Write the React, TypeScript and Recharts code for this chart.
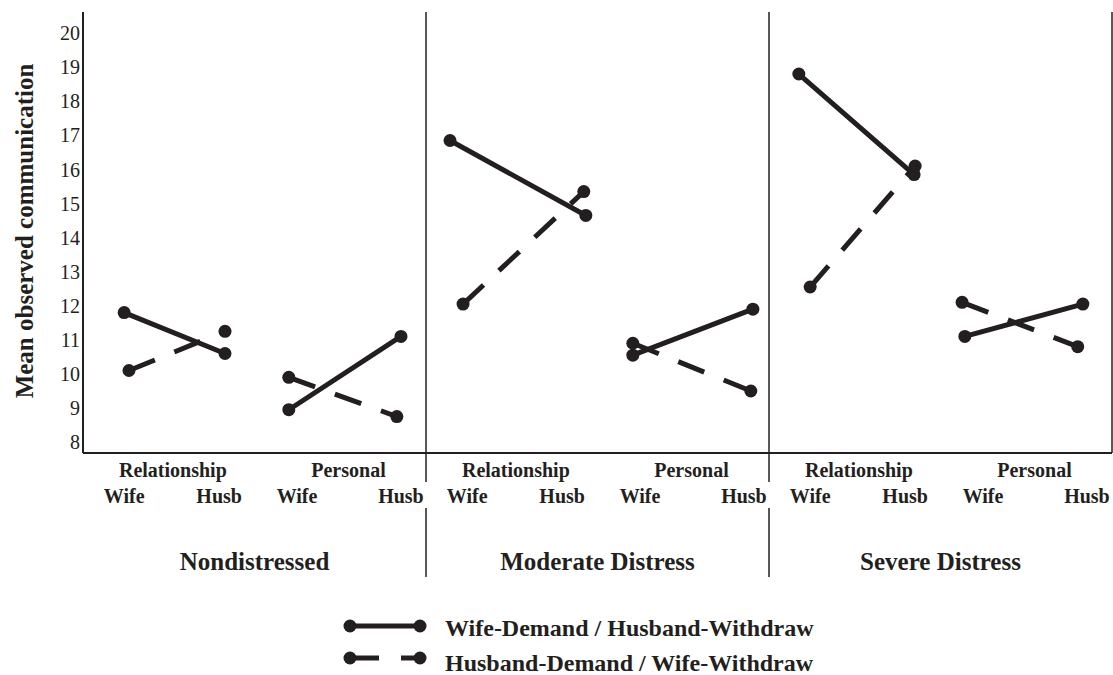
import React from 'react';
import { Legend, Line, LineChart, ReferenceLine, XAxis, YAxis } from 'recharts';

const INK = '#231f20';
const SERIF = '"Liberation Serif", "Times New Roman", serif';

const groups = ['Nondistressed', 'Moderate Distress', 'Severe Distress'];
const topics = ['Relationship', 'Personal'];
const spouses = ['Wife', 'Husb', 'Wife', 'Husb'];

// x scale: each distress group is 10 units wide
const groupWidth = 10;
const spouseTicks = [1.2, 3.97, 6.24, 9.27];
const topicTicks = [2.62, 7.74];
const groupCenter = 5.0;
const dividers = [10, 20];

const yTicks = [8, 9, 10, 11, 12, 13, 14, 15, 16, 17, 18, 19, 20];

// Wife-Demand / Husband-Withdraw (solid)
const wdhwX = [1.2, 4.14, 6.0, 9.27, 10.7, 14.66, 16.03, 19.53, 20.87, 24.23, 25.71, 29.15];
const wdhwY = [11.8, 10.6, 8.95, 11.1, 16.85, 14.65, 10.55, 11.9, 18.8, 15.85, 11.1, 12.05];

// Husband-Demand / Wife-Withdraw (dashed)
const hdwwX = [1.34, 4.14, 6.0, 9.15, 11.08, 14.6, 16.03, 19.47, 21.2, 24.26, 25.63, 29.0];
const hdwwY = [10.1, 11.25, 9.9, 8.75, 12.05, 15.35, 10.9, 9.5, 12.55, 16.1, 12.1, 10.8];

// pairs of points joined by a segment, with a null between pairs to break the line
function segments(xs: number[], ys: number[]) {
  const rows: { x: number; y: number | null }[] = [];
  for (let i = 0; i < xs.length; i += 2) {
    rows.push({ x: xs[i], y: ys[i] });
    rows.push({ x: xs[i + 1], y: ys[i + 1] });
    if (i + 2 < xs.length) rows.push({ x: (xs[i + 1] + xs[i + 2]) / 2, y: null });
  }
  return rows;
}

const wdhwData = segments(wdhwX, wdhwY);
const hdwwData = segments(hdwwX, hdwwY);

const spouseTickValues = groups.flatMap((_, g) => spouseTicks.map((t) => t + g * groupWidth));
const topicTickValues = [
  ...groups.flatMap((_, g) => topicTicks.map((t) => t + g * groupWidth)),
  ...dividers,
];
const groupTickValues = [...groups.map((_, g) => groupCenter + g * groupWidth), ...dividers];

const labelStyle = { fontFamily: SERIF, fontWeight: 700, fill: INK };

function SpouseTick({ x, y, index }: any) {
  return (
    <text x={x} y={y + 20} textAnchor="middle" fontSize={20} {...labelStyle}>
      {spouses[index % spouses.length]}
    </text>
  );
}

function TopicTick({ x, y, payload, index }: any) {
  if (dividers.includes(payload.value)) {
    return <line x1={x} x2={x} y1={y} y2={y + 29} stroke={INK} strokeWidth={1.5} />;
  }
  return (
    <text x={x} y={y + 24} textAnchor="middle" fontSize={20} {...labelStyle}>
      {topics[index % topics.length]}
    </text>
  );
}

function GroupTick({ x, y, payload, index }: any) {
  if (dividers.includes(payload.value)) {
    return <line x1={x} x2={x} y1={y - 5} y2={y + 64} stroke={INK} strokeWidth={1.5} />;
  }
  return (
    <text x={x} y={y + 57} textAnchor="middle" fontSize={25} {...labelStyle}>
      {groups[index]}
    </text>
  );
}

function Marker({ cx, cy }: any) {
  if (cx == null || cy == null) return null;
  return <circle cx={cx} cy={cy} r={6.5} fill={INK} />;
}

function LegendBox({ payload }: any) {
  // solid series first, as in the original key
  const rows = [...(payload ?? [])].sort(
    (a: any, b: any) => Number(!!a.payload?.strokeDasharray) - Number(!!b.payload?.strokeDasharray),
  );
  return (
    <svg width={520} height={75} style={{ display: 'block' }}>
      {rows.map((entry: any, i: number) => {
        const cy = 21 + i * 32;
        const dashed = !!entry.payload?.strokeDasharray;
        return (
          <g key={entry.value}>
            <line
              x1={20}
              x2={90}
              y1={cy}
              y2={cy}
              stroke={INK}
              strokeWidth={5}
              strokeDasharray={dashed ? '29 22' : undefined}
            />
            <circle cx={20} cy={cy} r={6.5} fill={INK} />
            <circle cx={90} cy={cy} r={6.5} fill={INK} />
            <text x={115} y={cy + 10 + i * 3} fontSize={24} {...labelStyle}>
              {entry.value}
            </text>
          </g>
        );
      })}
    </svg>
  );
}

function YTitle() {
  return (
    <text
      x={33}
      y={231}
      transform="rotate(-90 33 231)"
      textAnchor="middle"
      fontSize={25}
      {...labelStyle}
    >
      Mean observed communication
    </text>
  );
}

export default function App() {
  return (
    <div style={{ position: 'absolute', left: 0, top: 0, background: '#fff' }}>
      <LineChart width={1113} height={675} margin={{ top: 12, right: 1, bottom: 92, left: 0 }}>
        {/* bottom axes stack outward from the plot by id: a, b, c */}
        <XAxis
          xAxisId="a-topic"
          type="number"
          dataKey="x"
          domain={[0, 30]}
          allowDataOverflow
          ticks={topicTickValues}
          interval={0}
          tick={<TopicTick />}
          tickSize={0}
          tickMargin={0}
          tickLine={false}
          height={30}
          axisLine={{ stroke: INK, strokeWidth: 2 }}
        />
        <XAxis
          xAxisId="b-spouse"
          type="number"
          dataKey="x"
          domain={[0, 30]}
          allowDataOverflow
          ticks={spouseTickValues}
          interval={0}
          tick={<SpouseTick />}
          tickSize={0}
          tickMargin={0}
          tickLine={false}
          height={30}
          axisLine={false}
        />
        <XAxis
          xAxisId="c-group"
          type="number"
          dataKey="x"
          domain={[0, 30]}
          allowDataOverflow
          ticks={groupTickValues}
          interval={0}
          tick={<GroupTick />}
          tickSize={0}
          tickMargin={0}
          tickLine={false}
          height={70}
          axisLine={false}
        />
        <YAxis
          type="number"
          domain={[7.68, 20.62]}
          allowDataOverflow
          ticks={yTicks}
          interval={0}
          width={83}
          tickSize={0}
          tickMargin={3}
          tickLine={false}
          axisLine={{ stroke: INK, strokeWidth: 2 }}
          tick={{ fontSize: 20, fill: INK, fontFamily: SERIF }}
          label={{ content: () => <YTitle /> }}
        />
        {[...dividers, 30].map((d) => (
          <ReferenceLine key={d} xAxisId="a-topic" x={d} stroke={INK} strokeWidth={1.5} />
        ))}
        <Line
          xAxisId="a-topic"
          data={wdhwData}
          dataKey="y"
          name="Wife-Demand / Husband-Withdraw"
          stroke={INK}
          strokeWidth={5}
          dot={<Marker />}
          activeDot={false}
          connectNulls={false}
          isAnimationActive={false}
        />
        <Line
          xAxisId="a-topic"
          data={hdwwData}
          dataKey="y"
          name="Husband-Demand / Wife-Withdraw"
          stroke={INK}
          strokeWidth={5}
          strokeDasharray="28 21"
          dot={<Marker />}
          activeDot={false}
          connectNulls={false}
          isAnimationActive={false}
        />
        <Legend
          layout="vertical"
          verticalAlign="middle"
          align="center"
          content={<LegendBox />}
          wrapperStyle={{ top: 605, left: 330, width: 520, height: 75 }}
        />
      </LineChart>
    </div>
  );
}
